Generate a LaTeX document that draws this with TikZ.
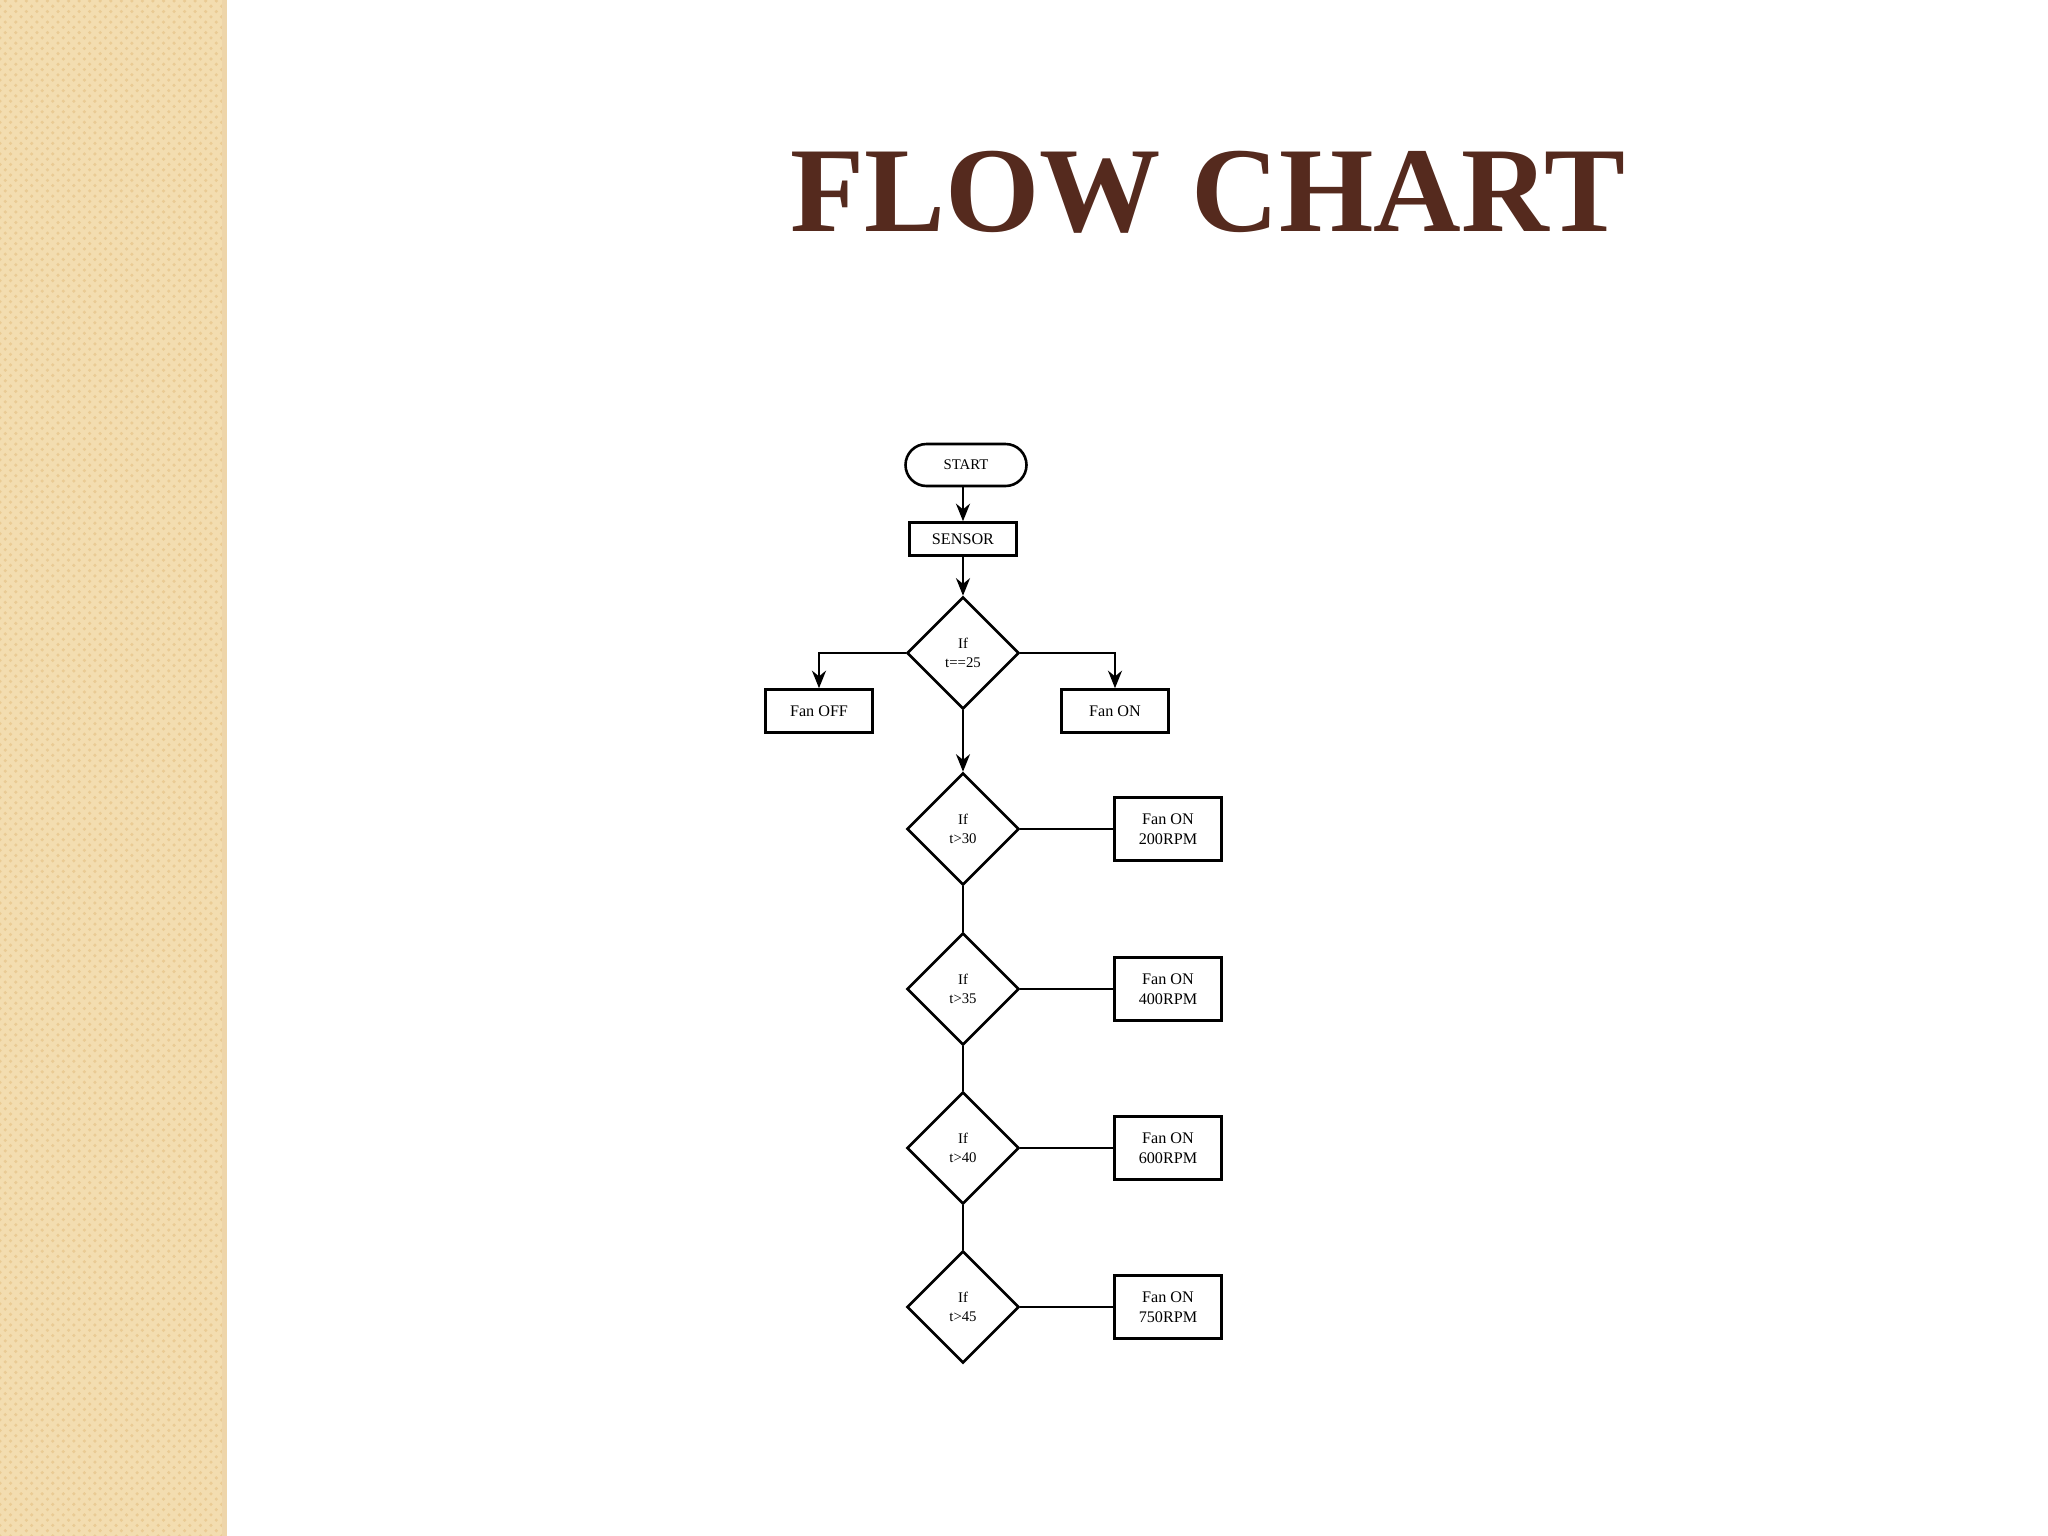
\documentclass[tikz,border=0pt]{standalone}
\usepackage{fontspec}
\setmainfont{Liberation Serif}
\usetikzlibrary{shapes.geometric,shapes.misc,arrows.meta,patterns}
\definecolor{band}{HTML}{F3DDB0}
\definecolor{bandd}{HTML}{EACB94}
\definecolor{titlec}{HTML}{552A1E}
\begin{document}
\begin{tikzpicture}[x=0.01cm,y=-0.01cm,
  box/.style={draw,line width=2.6pt*0.2845,minimum width=107*0.01cm,font=\fontsize{4.6}{5.6}\selectfont,align=center,inner sep=0pt},
  dia/.style={diamond,draw,line width=2.6pt*0.2845,minimum width=112*0.01cm,minimum height=112*0.01cm,inner sep=0pt,font=\fontsize{4.2}{5.4}\selectfont,align=center},
  conn/.style={line width=0.5pt},
  arr/.style={conn,-{Stealth[length=5pt,width=4pt]}}]
\useasboundingbox (0,0) rectangle (2048,1536);
\fill[white] (0,0) rectangle (2048,1536);
\fill[band] (0,0) rectangle (227,1536);
\fill[pattern=crosshatch dots,pattern color=bandd] (0,0) rectangle (222,1536);
\fill[bandd!80] (222,0) rectangle (227,1536);
\node[font=\fontsize{34.5}{34.5}\selectfont\bfseries,text=titlec] (title) at (1208,192) {FLOW CHART};
\node[draw,rounded rectangle,line width=2.6pt*0.2845,minimum width=121*0.01cm,minimum height=42*0.01cm,font=\fontsize{4.2}{5}\selectfont,inner sep=0pt] (start) at (966,465) {START};
\node[box,minimum height=33*0.01cm] (sensor) at (963,539) {SENSOR};
\node[dia] (d1) at (963,653) {If\\t==25};
\node[box,minimum height=43*0.01cm] (off) at (819,711) {Fan OFF};
\node[box,minimum height=43*0.01cm] (on) at (1115,711) {Fan ON};
\node[dia] (d2) at (963,829) {If\\t>30};
\node[dia] (d3) at (963,989) {If\\t>35};
\node[dia] (d4) at (963,1148) {If\\t>40};
\node[dia] (d5) at (963,1307) {If\\t>45};
\node[box,minimum height=63*0.01cm] (b2) at (1168,829) {Fan ON\\200RPM};
\node[box,minimum height=63*0.01cm] (b3) at (1168,989) {Fan ON\\400RPM};
\node[box,minimum height=63*0.01cm] (b4) at (1168,1148) {Fan ON\\600RPM};
\node[box,minimum height=63*0.01cm] (b5) at (1168,1307) {Fan ON\\750RPM};
\draw[arr] (start.south -| sensor.north) -- (sensor.north);
\draw[arr] (sensor) -- (d1);
\draw[arr] (d1.west) -| (off.north);
\draw[arr] (d1.east) -| (on.north);
\draw[arr] (d1.south) -- (d2.north);
\draw[conn] (d2) -- (d3);
\draw[conn] (d3) -- (d4);
\draw[conn] (d4) -- (d5);
\draw[conn] (d2) -- (b2);
\draw[conn] (d3) -- (b3);
\draw[conn] (d4) -- (b4);
\draw[conn] (d5) -- (b5);
\end{tikzpicture}
\end{document}
